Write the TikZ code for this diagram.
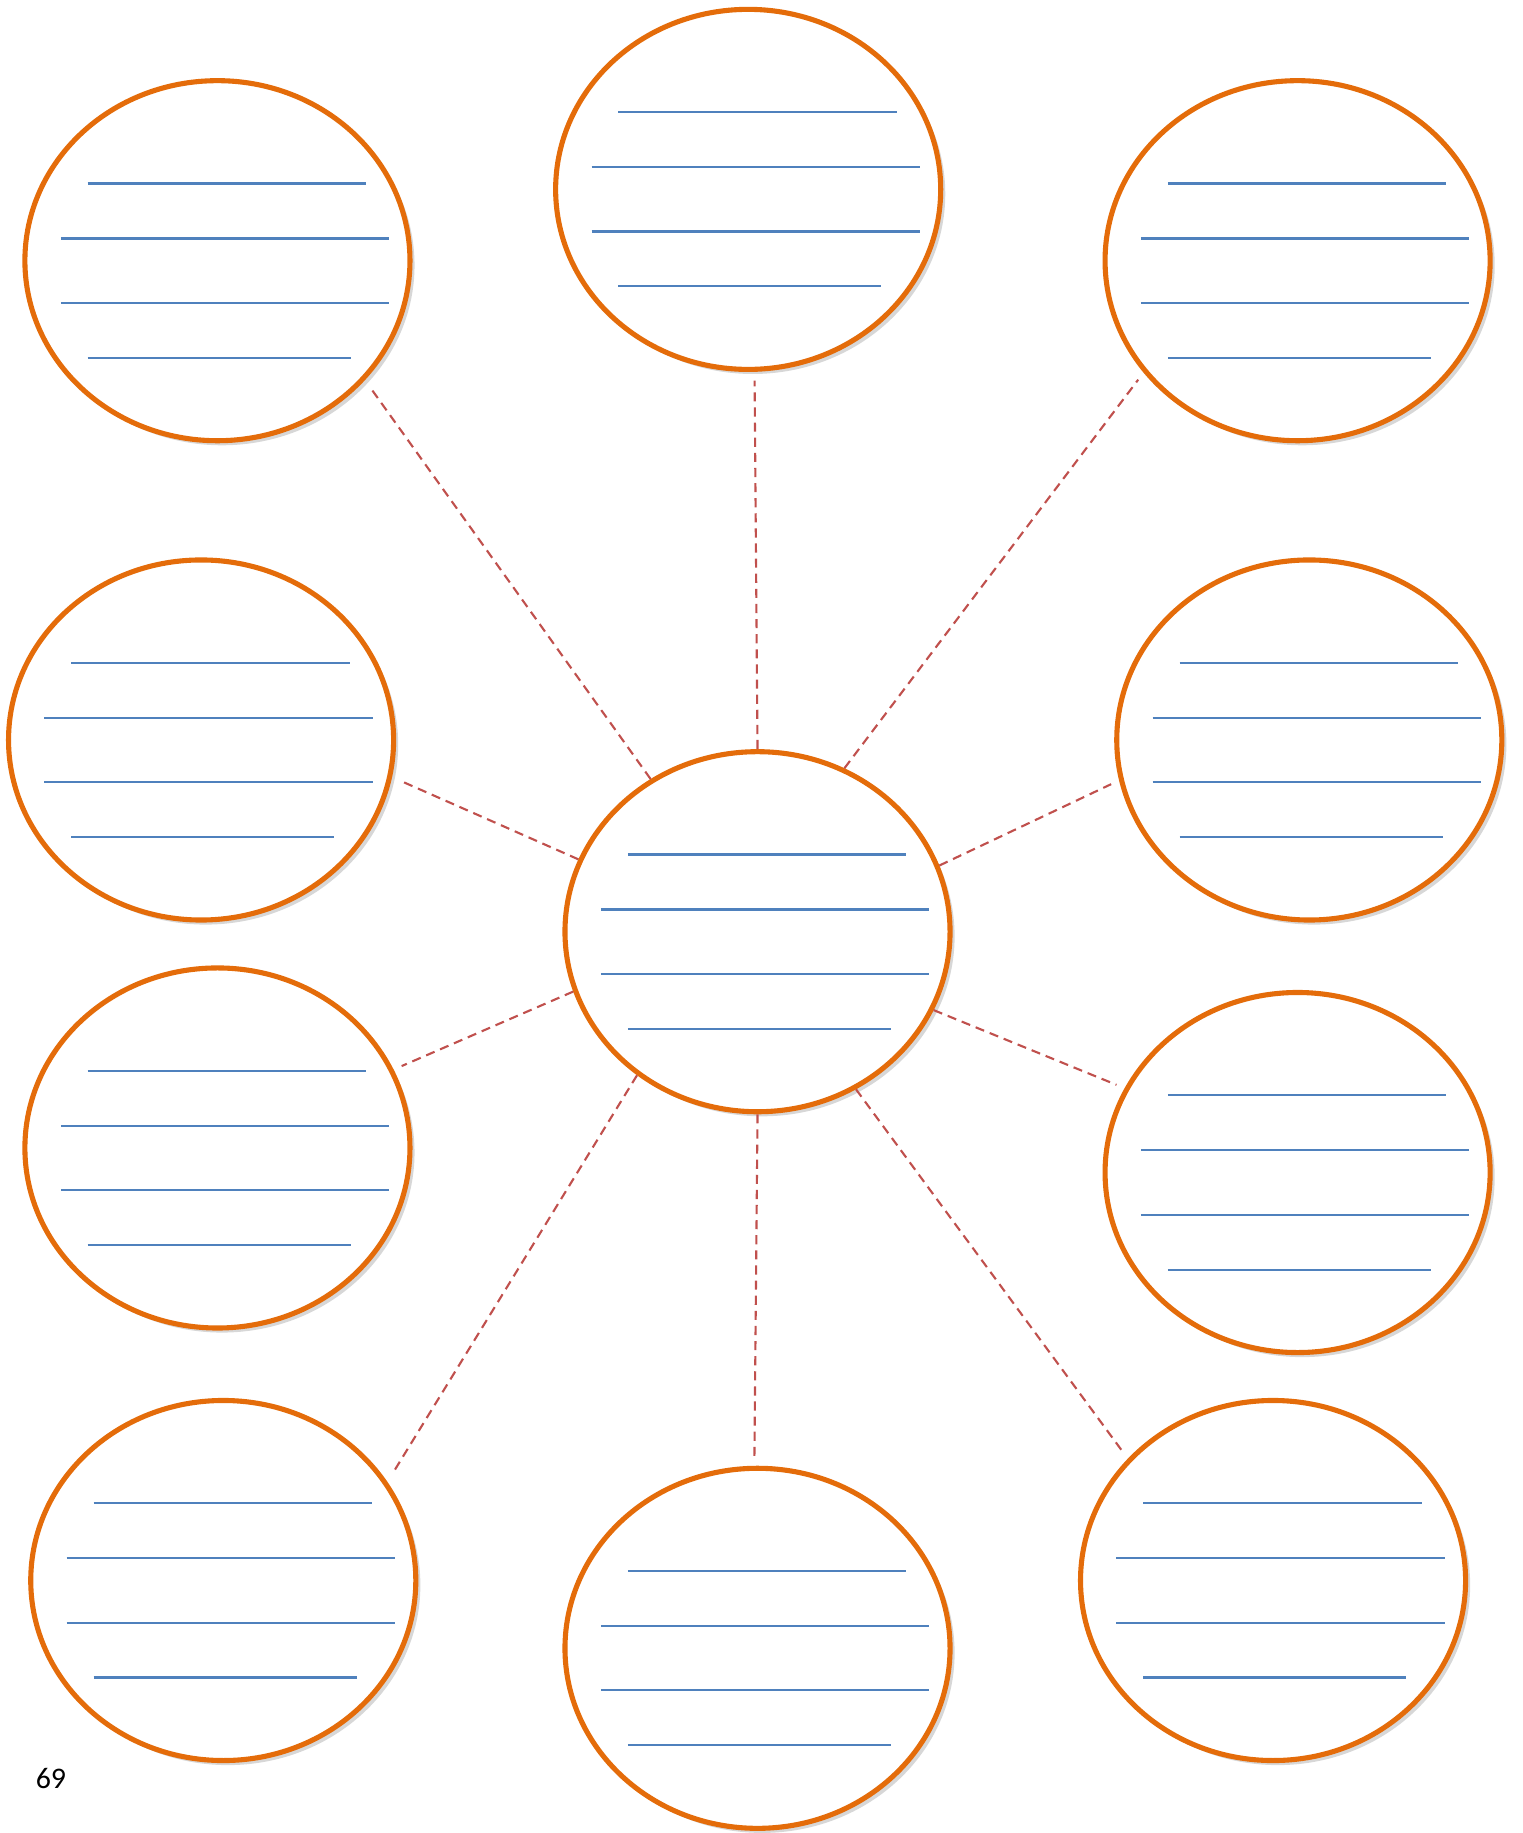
\documentclass[tikz,border=0pt]{standalone}
\usepackage{fontspec}
\setmainfont{Carlito}
\usetikzlibrary{calc,shapes.geometric,shadows}
\definecolor{rim}{HTML}{E46C0A}
\definecolor{ruleblue}{HTML}{4F81BD}
\definecolor{linkred}{HTML}{C0504D}

\begin{document}
\begin{tikzpicture}[
  x=0.01169cm, y=-0.01169cm,
  writeline/.style={ruleblue,line width=.6pt},
  link/.style={linkred,line width=.6pt,dash pattern=on 2.6pt off 1.7pt,shorten >=2.5pt},
  bubble/.style={ellipse,draw=rim,line width=1.45pt,fill=white,minimum width=3.85cm,minimum height=3.6cm,inner sep=0pt,
    drop shadow={shadow xshift=1.3pt,shadow yshift=-1.3pt,opacity=.45,fill=black!35},
    path picture={
      \begin{scope}[shift={(path picture bounding box.center)}]
        \draw[writeline] (-111,-66) -- (127,-66);
        \draw[writeline] (-134,-19) -- (147,-19);
        \draw[writeline] (-134,36) -- (147,36);
        \draw[writeline] (-111,83) -- (114,83);
      \end{scope}}}
]
\useasboundingbox (0,0) rectangle (1302,1568);
\node[bubble] (top) at (640,162) {};
\node[bubble] (topleft) at (186,223) {};
\node[bubble] (topright) at (1110,223) {};
\node[bubble] (midleft) at (172,633) {};
\node[bubble] (midright) at (1120,633) {};
\node[bubble] (hub) at (648,797) {};
\node[bubble] (lowleft) at (186,982) {};
\node[bubble] (lowright) at (1110,1003) {};
\node[bubble] (botleft) at (191,1352) {};
\node[bubble] (bot) at (648,1410) {};
\node[bubble] (botright) at (1089,1352) {};
\draw[link] (hub.125) -- (topleft.-39);
\draw[link] (hub.90) -- (top.-88);
\draw[link] (hub.62) -- (topright.-144);
\draw[link] (hub.158) -- (midleft.-11);
\draw[link] (hub.20) -- (midright.-168);
\draw[link] (hub.-162) -- (lowleft.24);
\draw[link] (hub.-24) -- (lowright.154);
\draw[link] (hub.-130) -- (botleft.31);
\draw[link] (hub.-90) -- (bot.91);
\draw[link] (hub.-58) -- (botright.140);
\node (pagenum) at (43.6,1521) {\fontsize{8.5}{10}\selectfont 69};
\end{tikzpicture}
\end{document}
